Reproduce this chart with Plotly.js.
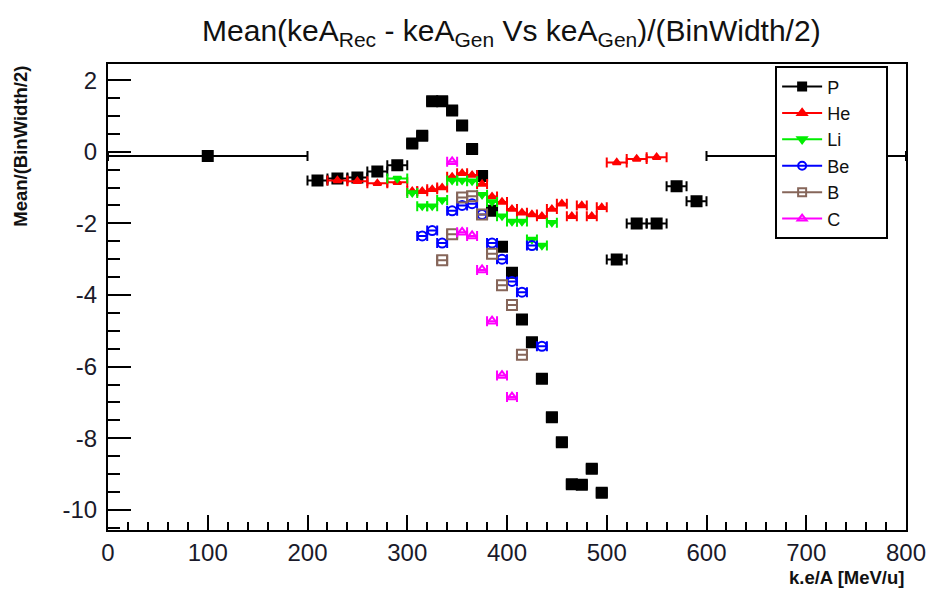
<!DOCTYPE html>
<html>
<head>
<meta charset="utf-8">
<script src="https://cdn.plot.ly/plotly-3.0.1.min.js"></script>
<style>
html,body{margin:0;padding:0;background:#fff;}
#chart{width:928px;height:590px;}
</style>
</head>
<body>
<div id="chart"></div>
<script>
// ---- data (bin centres, bin half-widths, values) ----
const xP = [100, 210, 230, 250, 270, 290, 305, 315, 325, 335, 345, 355, 365, 375, 385, 395, 405, 415, 425, 435, 445, 455, 465, 475, 485, 495, 510, 530, 550, 570, 590, 700];
const hwP = [100, 10, 10, 10, 10, 10, 5, 5, 5, 5, 5, 5, 5, 5, 5, 5, 5, 5, 5, 5, 5, 5, 5, 5, 5, 5, 10, 10, 10, 10, 10, 100];
const yP = [-0.12, -0.80, -0.75, -0.72, -0.55, -0.38, 0.23, 0.45, 1.41, 1.41, 1.15, 0.73, 0.08, -0.68, -1.65, -2.65, -3.38, -4.68, -5.32, -6.34, -7.41, -8.11, -9.28, -9.30, -8.85, -9.52, -3.01, -2.00, -2.00, -0.96, -1.38, -0.12];

const xHe = [230, 250, 270, 290, 305, 315, 325, 335, 345, 355, 365, 375, 385, 395, 405, 415, 425, 435, 445, 455, 465, 475, 485, 495, 510, 530, 550];
const hwHe = [10, 10, 10, 10, 5, 5, 5, 5, 5, 5, 5, 5, 5, 5, 5, 5, 5, 5, 5, 5, 5, 5, 5, 5, 10, 10, 10];
const yHe = [-0.80, -0.82, -0.88, -0.85, -1.10, -1.10, -1.05, -1.00, -0.70, -0.60, -0.65, -0.90, -1.25, -1.40, -1.60, -1.70, -1.75, -1.80, -1.60, -1.45, -1.80, -1.50, -1.80, -1.55, -0.30, -0.20, -0.15];

const xLi = [290, 305, 315, 325, 335, 345, 355, 365, 375, 385, 395, 405, 415, 425, 435, 445];
const hwLi = [10, 5, 5, 5, 5, 5, 5, 5, 5, 5, 5, 5, 5, 5, 5, 5];
const yLi = [-0.75, -1.15, -1.52, -1.52, -1.35, -0.80, -0.80, -0.82, -1.20, -1.40, -1.80, -1.95, -1.95, -2.45, -2.62, -1.98];

const xBe = [315, 325, 335, 345, 355, 365, 375, 385, 395, 405, 415, 425, 435];
const yBe = [-2.35, -2.20, -2.55, -1.65, -1.50, -1.45, -1.75, -2.55, -3.00, -3.62, -3.92, -2.62, -5.43];

const xB = [335, 345, 355, 365, 375, 385, 395, 405, 415];
const yB = [-3.03, -2.30, -1.28, -1.24, -1.75, -2.85, -3.73, -4.28, -5.67];

const xC = [345, 355, 365, 375, 385, 395, 405];
const yC = [-0.28, -2.25, -2.35, -3.30, -4.73, -6.25, -6.85];

const names = ['P', 'He', 'Li', 'Be', 'B', 'C'];
const tickVals = [0, 100, 200, 300, 400, 500, 600, 700, 800];
const yTickVals = [-10, -8, -6, -4, -2, 0, 2];

// ---- styles ----
const colors = ['#000000', '#ff0000', '#00ee00', '#0000ff', '#86665a', '#ff00ff'];
const symbols = ['square', 'triangle-up', 'triangle-down', 'circle-open', 'square-open', 'triangle-up-open'];
const sizes = [10, 7, 7, 9, 10, 9];
const pad = '&nbsp;'.repeat(6);

function series(i, x, y, hw) {
  return {
    type: 'scatter', mode: 'markers', name: names[i], x: x, y: y,
    showlegend: false, legendgroup: names[i],
    marker: {color: colors[i], symbol: symbols[i], size: sizes[i], line: {color: colors[i], width: 2}},
    error_x: {type: 'data', array: hw || x.map(() => 5), symmetric: true, color: colors[i], thickness: 2, width: 5},
    hoverinfo: 'x+y'
  };
}
function legendEntry(i) {
  return {
    type: 'scatter', mode: 'lines+markers', name: names[i] + pad, x: [null], y: [null],
    legendgroup: names[i], showlegend: true,
    line: {color: colors[i], width: 2},
    marker: {color: colors[i], symbol: symbols[i], size: 8, line: {color: colors[i], width: 2}}
  };
}

const traces = [
  series(0, xP, yP, hwP),
  series(1, xHe, yHe, hwHe),
  series(2, xLi, yLi, hwLi),
  series(3, xBe, yBe),
  series(4, xB, yB),
  series(5, xC, yC)
];
for (let i = 0; i < names.length; i++) traces.push(legendEntry(i));

const font = 'Liberation Sans, Arial, sans-serif';
const layout = {
  width: 928, height: 590,
  margin: {l: 108, r: 22, t: 64, b: 60},
  paper_bgcolor: '#ffffff', plot_bgcolor: '#ffffff',
  font: {family: font, color: '#111'},
  showlegend: true,
  title: {
    text: 'Mean(keA<sub>Rec</sub> - keA<sub>Gen</sub> Vs keA<sub>Gen</sub>)/(BinWidth/2)',
    x: 0.551, xref: 'container', xanchor: 'center',
    y: 0.948, yref: 'container', yanchor: 'middle',
    font: {family: font, size: 30, color: '#111'}
  },
  xaxis: {
    range: [0, 800], tickvals: tickVals, ticktext: tickVals.map(String),
    ticks: 'inside', ticklen: 15, tickwidth: 2, tickcolor: '#000',
    minor: {dtick: 20, ticks: 'inside', ticklen: 8, tickwidth: 2, tickcolor: '#000', showgrid: false},
    showline: true, linecolor: '#000', linewidth: 2, mirror: true,
    showgrid: false, zeroline: false,
    tickfont: {family: font, size: 24, color: '#1a1a2a'}
  },
  yaxis: {
    range: [-10.56, 2.45], tickvals: yTickVals, ticktext: yTickVals.map(String),
    ticks: 'inside', ticklen: 23, tickwidth: 2, tickcolor: '#000',
    minor: {dtick: 0.5, ticks: 'inside', ticklen: 12, tickwidth: 2, tickcolor: '#000', showgrid: false},
    showline: true, linecolor: '#000', linewidth: 2, mirror: true,
    showgrid: false, zeroline: false,
    tickfont: {family: font, size: 24, color: '#1a1a2a'},
    ticklabelstandoff: 4
  },
  legend: {
    x: 0.836, xanchor: 'left', y: 0.995, yanchor: 'top',
    bgcolor: '#ffffff', bordercolor: '#000', borderwidth: 2,
    font: {family: font, size: 18, color: '#111'},
    traceorder: 'grouped', tracegroupgap: 0, itemwidth: 40
  },
  annotations: [
    {text: '<b>Mean/(BinWidth/2)</b>', textangle: -90, xref: 'paper', yref: 'paper',
     x: -0.11, y: 1.0, xanchor: 'center', yanchor: 'top', showarrow: false,
     font: {family: font, size: 18.5, color: '#111'}},
    {text: '<b>k.e/A [MeV/u]</b>', xref: 'paper', yref: 'paper',
     x: 1.0, y: -0.103, xanchor: 'right', yanchor: 'middle', showarrow: false,
     font: {family: font, size: 18.5, color: '#111'}}
  ]
};

Plotly.newPlot('chart', traces, layout, {displayModeBar: false, staticPlot: true});
</script>
</body>
</html>
